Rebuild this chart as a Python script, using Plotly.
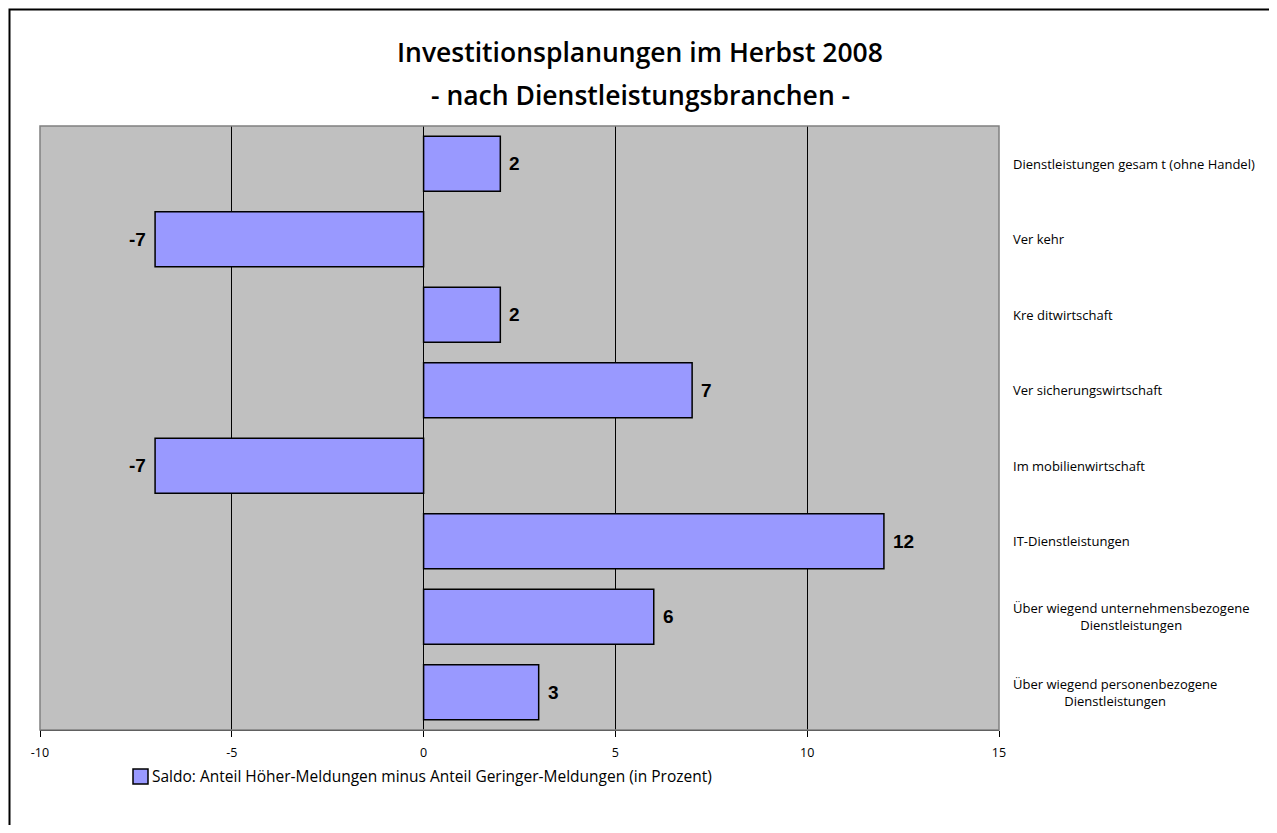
import plotly.graph_objects as go

categories = [
    "Dienstleistungen gesam t (ohne Handel)",
    "Ver kehr",
    "Kre ditwirtschaft",
    "Ver sicherungswirtschaft",
    "Im mobilienwirtschaft",
    "IT-Dienstleistungen",
    "Über wiegend unternehmensbezogene<br>Dienstleistungen",
    "Über wiegend personenbezogene<br>Dienstleistungen",
]
values = [2, -7, 2, 7, -7, 12, 6, 3]
series_name = "Saldo: Anteil Höher-Meldungen minus Anteil Geringer-Meldungen (in Prozent)"
title_lines = ["Investitionsplanungen im Herbst 2008", "- nach Dienstleistungsbranchen -"]
x_ticks = [-10, -5, 0, 5, 10, 15]

OFF = 8  # page body margin offset
W, H = 1277 - 2 * OFF, 833 - 2 * OFF
# target screen coordinates of the plot area
SL, SR, ST, SB = 40, 999, 126, 730
L = SL - OFF
T = ST - OFF
R = W - (SR - OFF)
B = H - (SB - OFF)
PW = W - L - R
PH = H - T - B


def px(xs):
    return (xs - OFF - L) / PW


def py(ys):
    return (H - B - (ys - OFF)) / PH


ypos = list(range(len(categories)))
FONT = "Open Sans, DejaVu Sans"

fig = go.Figure()
fig.add_trace(go.Bar(
    x=values, y=ypos, orientation="h", name=series_name,
    marker=dict(color="#9999FF", line=dict(color="black", width=1.5)),
    showlegend=False, hoverinfo="x+y",
))

annotations = []
# value labels
for i, v in enumerate(values):
    annotations.append(dict(
        x=v, y=i, xref="x", yref="y", text="<b>%d</b>" % v, showarrow=False,
        xanchor="left" if v >= 0 else "right", yanchor="middle",
        xshift=7 if v >= 0 else -7,
        font=dict(family="Liberation Sans, Arial", size=19, color="black"),
    ))
# category labels on the right
for i, c in enumerate(categories):
    annotations.append(dict(
        x=px(1011), xref="paper", y=i, yref="y", text=c, showarrow=False,
        xanchor="left", yanchor="middle", align="center",
        font=dict(family=FONT, size=13, color="black"),
    ))
# title
for k, (line, ys) in enumerate(zip(title_lines, [52, 95])):
    annotations.append(dict(
        x=px(640), xref="paper", y=py(ys), yref="paper", text=line,
        showarrow=False, xanchor="center", yanchor="middle",
        font=dict(family=FONT, size=26.5, color="black", weight=600),
    ))
# legend text
annotations.append(dict(
    x=px(150), xref="paper", y=py(776), yref="paper", text=series_name,
    showarrow=False, xanchor="left", yanchor="middle",
    font=dict(family=FONT, size=15.5, color="black"),
))

fig.update_layout(
    width=W, height=H,
    margin=dict(l=L, r=R, t=T, b=B),
    paper_bgcolor="white", plot_bgcolor="#C0C0C0",
    bargap=0.27,
    xaxis=dict(
        range=[-10, 15], tickvals=x_ticks, ticktext=[str(t) for t in x_ticks],
        showgrid=True, gridcolor="black", gridwidth=1,
        zeroline=False, showline=True, linecolor="black", linewidth=1,
        ticks="outside", ticklen=6, tickcolor="black",
        tickfont=dict(family=FONT, size=12.5, color="black"),
        ticklabelstandoff=5,
    ),
    yaxis=dict(
        range=[len(categories) - 0.5, -0.5], showticklabels=False,
        showgrid=False, zeroline=False, showline=False,
    ),
    showlegend=False,
    annotations=annotations,
    shapes=[
        # outer frame (right and bottom edges fall outside the figure)
        dict(type="rect", xref="paper", yref="paper",
             x0=px(9.5), x1=px(1500), y0=py(9.5), y1=py(1200),
             line=dict(color="black", width=2), layer="below"),
        dict(type="rect", xref="paper", yref="paper", x0=0, x1=1, y0=0, y1=1,
             line=dict(color="#808080", width=1.5), layer="above"),
        # legend swatch
        dict(type="rect", xref="paper", yref="paper",
             x0=px(133), x1=px(148), y0=py(784), y1=py(769),
             fillcolor="#9999FF", line=dict(color="black", width=1.5)),
    ],
)

fig.write_html("out.html")
